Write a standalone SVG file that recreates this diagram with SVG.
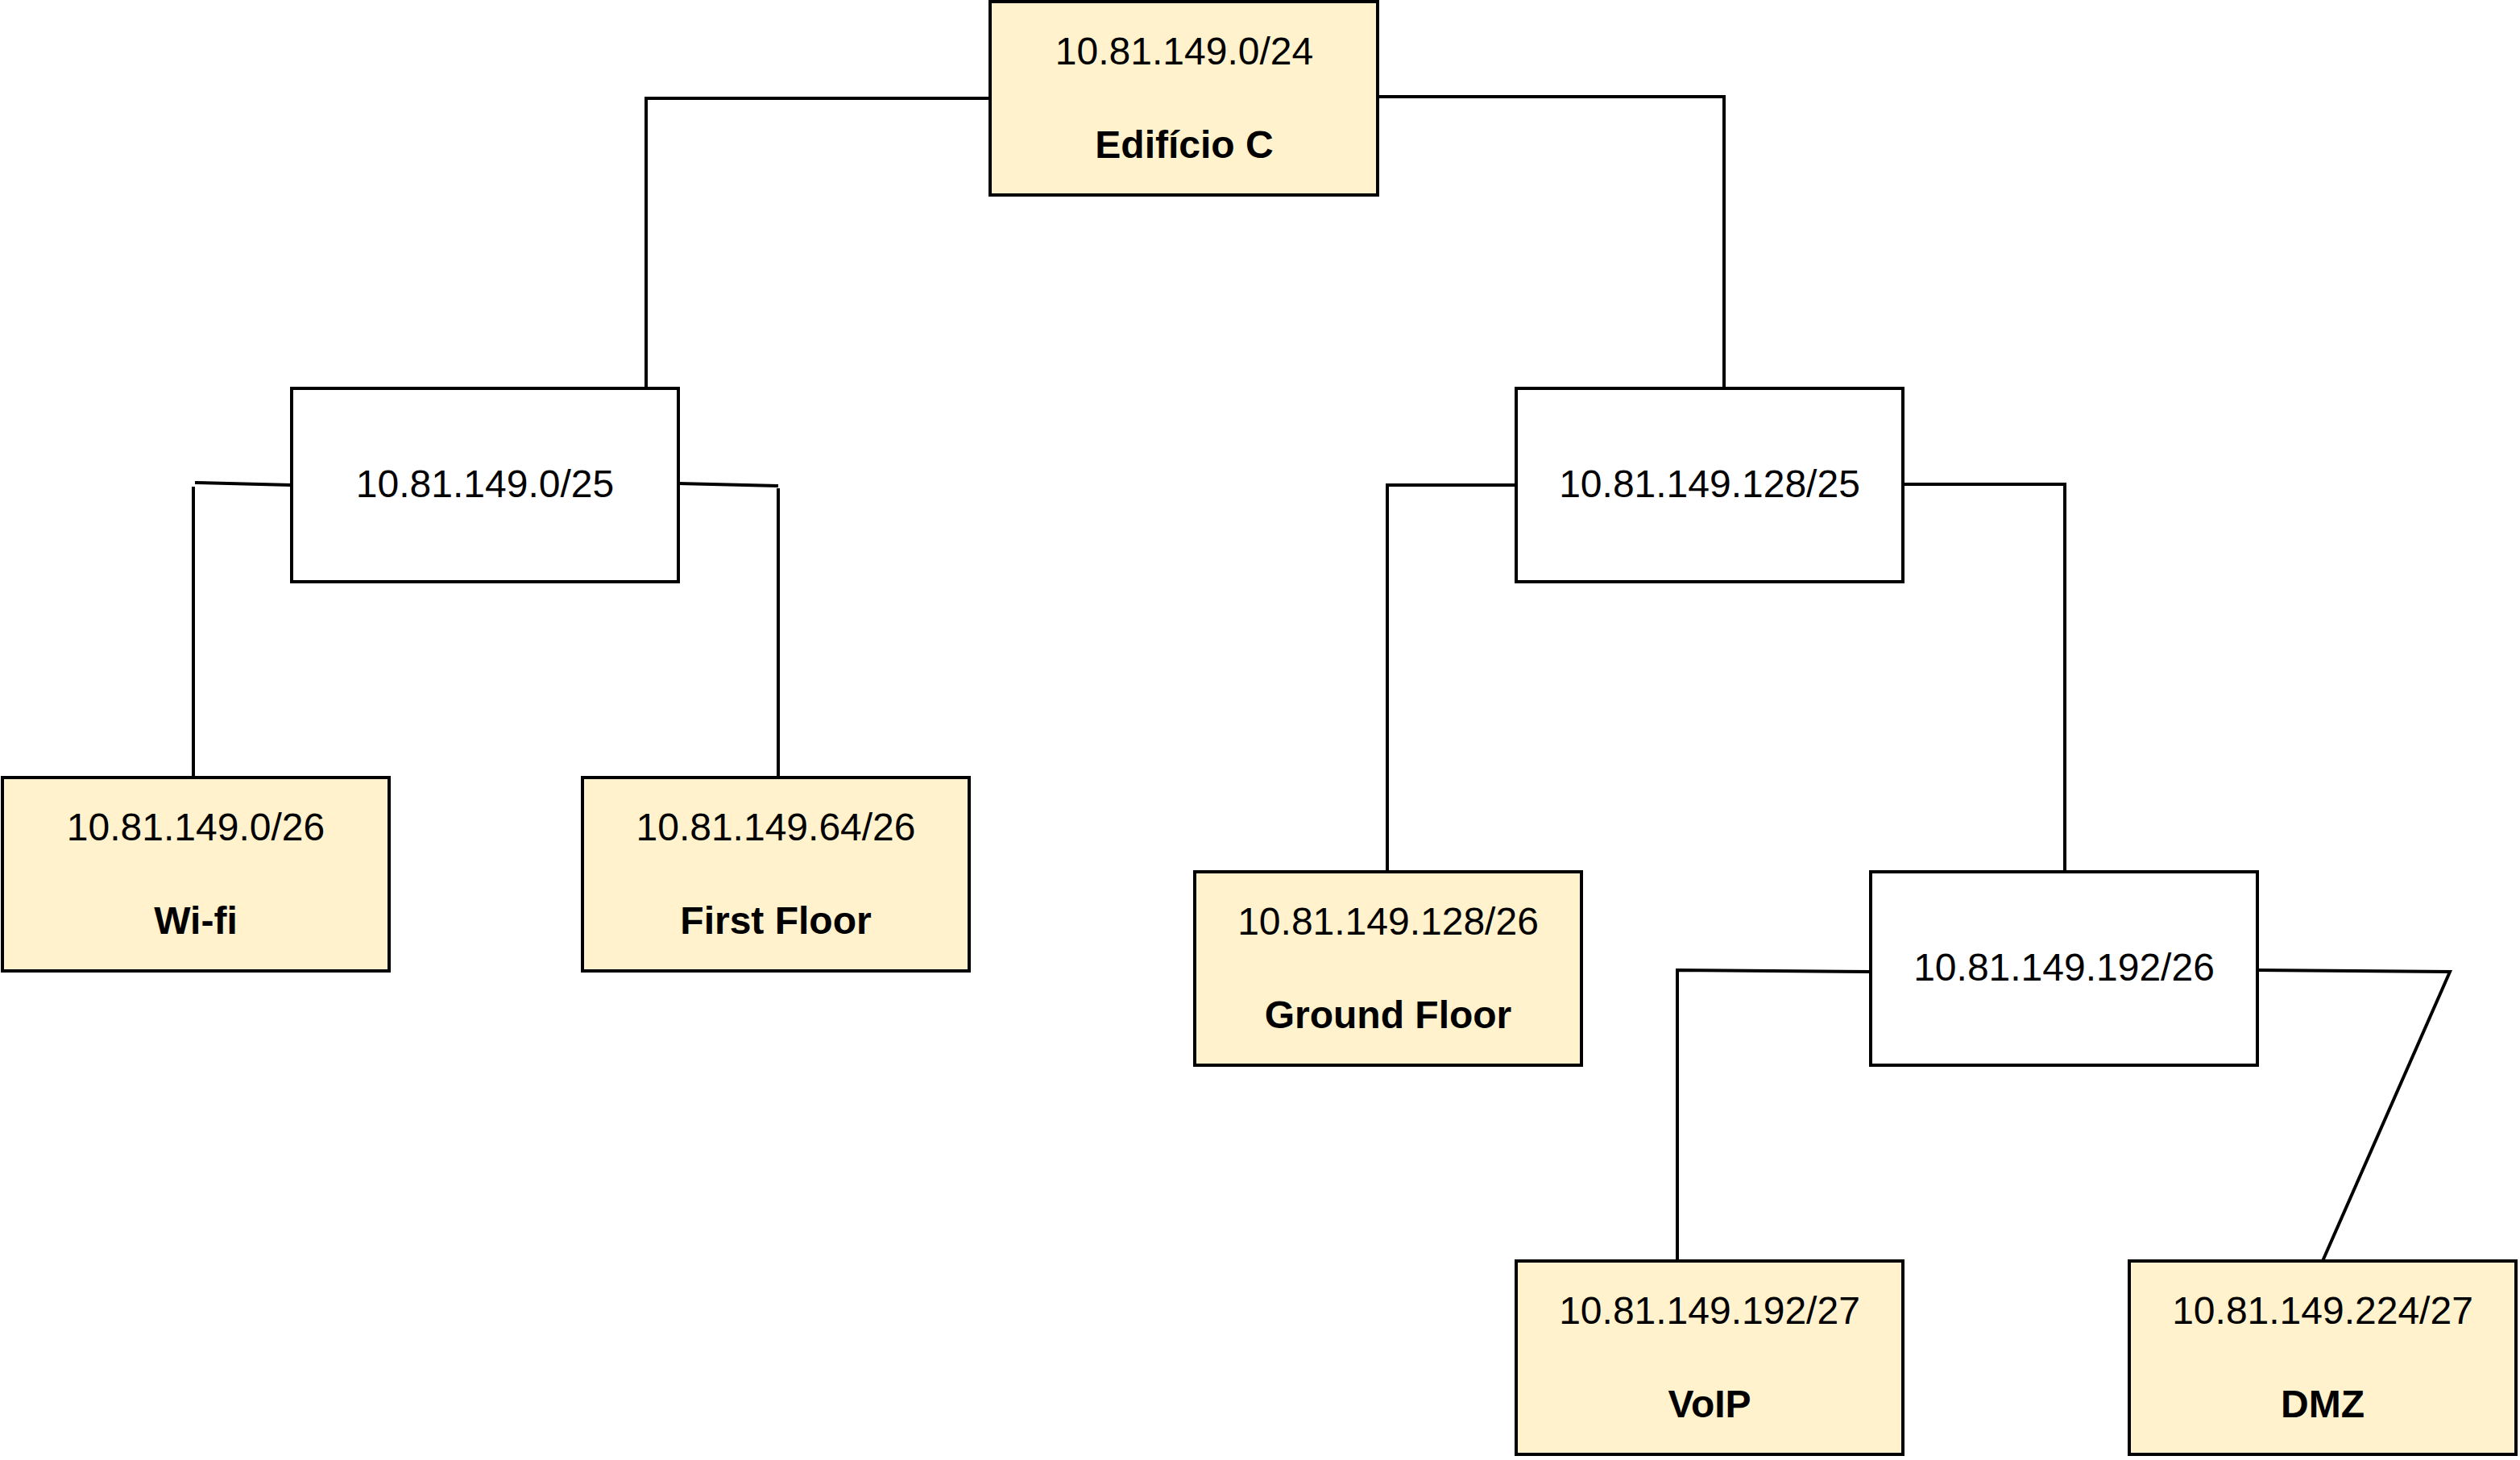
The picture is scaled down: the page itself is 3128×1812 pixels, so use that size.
<svg xmlns="http://www.w3.org/2000/svg" width="3128" height="1812" viewBox="0 0 3128 1812">
<style>
.box{stroke:#000;stroke-width:4}
.y{fill:#fff2cc}
.w{fill:#fff}
text{font-family:"Liberation Sans",Arial,sans-serif;font-size:48px;fill:#000;text-anchor:middle}
.b{font-weight:bold}
.c{fill:none;stroke:#000;stroke-width:4}
</style>
<rect width="3128" height="1812" fill="#fff"/>
<g id="connectors">
<path class="c" d="M1229 122 H802 V482"/>
<path class="c" d="M1710 120 H2140 V482"/>
<path class="c" d="M242 599 L362 602"/>
<path class="c" d="M240 604 V965"/>
<path class="c" d="M842 600 L966 603"/>
<path class="c" d="M966 606 V965"/>
<path class="c" d="M1882 602 H1722 V1082"/>
<path class="c" d="M2362 601 H2563 V1082"/>
<path class="c" d="M2322 1206 L2082 1204 V1565"/>
<path class="c" d="M2802 1204 L3041 1206 L2883 1565"/>
</g>
<g id="n-root"><rect class="box y" x="1229" y="2" width="481" height="240"/><text x="1470" y="80">10.81.149.0/24</text><text class="b" x="1470" y="196">Edifício C</text></g>
<g id="n-0-25"><rect class="box w" x="362" y="482" width="480" height="240"/><text x="602" y="617">10.81.149.0/25</text></g>
<g id="n-128-25"><rect class="box w" x="1882" y="482" width="480" height="240"/><text x="2122" y="617">10.81.149.128/25</text></g>
<g id="n-wifi"><rect class="box y" x="3" y="965" width="480" height="240"/><text x="243" y="1043">10.81.149.0/26</text><text class="b" x="243" y="1159">Wi-fi</text></g>
<g id="n-first"><rect class="box y" x="723" y="965" width="480" height="240"/><text x="963" y="1043">10.81.149.64/26</text><text class="b" x="963" y="1159">First Floor</text></g>
<g id="n-ground"><rect class="box y" x="1483" y="1082" width="480" height="240"/><text x="1723" y="1160">10.81.149.128/26</text><text class="b" x="1723" y="1276">Ground Floor</text></g>
<g id="n-192-26"><rect class="box w" x="2322" y="1082" width="480" height="240"/><text x="2562" y="1217">10.81.149.192/26</text></g>
<g id="n-voip"><rect class="box y" x="1882" y="1565" width="480" height="240"/><text x="2122" y="1643">10.81.149.192/27</text><text class="b" x="2122" y="1759">VoIP</text></g>
<g id="n-dmz"><rect class="box y" x="2643" y="1565" width="480" height="240"/><text x="2883" y="1643">10.81.149.224/27</text><text class="b" x="2883" y="1759">DMZ</text></g>
</svg>
